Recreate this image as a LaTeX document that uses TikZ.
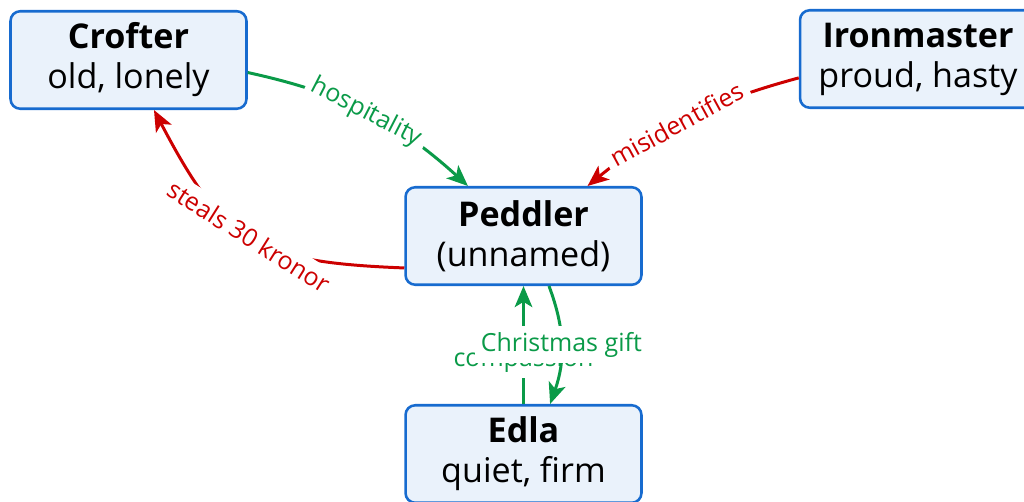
\documentclass[tikz,border=0pt]{standalone}
\usepackage{fontspec}
\setmainfont{Open Sans}
\usetikzlibrary{arrows.meta}

\definecolor{nodeblue}{HTML}{176BCF}
\definecolor{nodefill}{HTML}{EAF2FB}
\definecolor{kindgreen}{HTML}{0A9A48}
\definecolor{harmred}{HTML}{CC0000}

\begin{document}
\begin{tikzpicture}[x=0.02cm, y=0.02cm,
  person/.style={draw=nodeblue, line width=1.45pt, fill=nodefill, rounded corners=5.5pt,
    minimum width=4.72cm, minimum height=1.95cm, align=center,
    font=\fontsize{19.4}{22.8}\selectfont},
  kind/.style={color=kindgreen, line width=1.7pt, -{Stealth[length=12pt,width=10pt,inset=3pt]}},
  harm/.style={kind, color=harmred},
  tag/.style={font=\fontsize{14.2}{16}\selectfont, fill=white, midway}]
  \useasboundingbox (0,0) rectangle (1024,501);

  % characters
  \node[person] (crofter) at (128.5,441) {\textbf{Crofter}\\old, lonely};
  \node[person] (iron) at (918,442) {\textbf{Ironmaster}\\proud, hasty};
  \node[person] (peddler) at (523.5,265) {\textbf{Peddler}\\(unnamed)};
  \node[person] (edla) at (523.5,47) {\textbf{Edla}\\quiet, firm};

  % relations
  \draw[kind] (crofter.-6) to[bend left=15] node[tag, sloped] {hospitality} (peddler.138);
  \draw[harm] (iron.189) to[bend right=12] node[tag, sloped, pos=0.55] {misidentifies} (peddler.38);
  \draw[harm] (peddler.195) to[bend left=30, looseness=1.3] node[tag, sloped] {steals 30 kronor} (crofter.-63);
  \draw[kind] (edla.north) -- node[tag, pos=0.37] {compassion} (peddler.south);
  \draw[kind] (peddler.-63) to[bend left=20] node[tag] {Christmas gift} (edla.62);
\end{tikzpicture}
\end{document}
